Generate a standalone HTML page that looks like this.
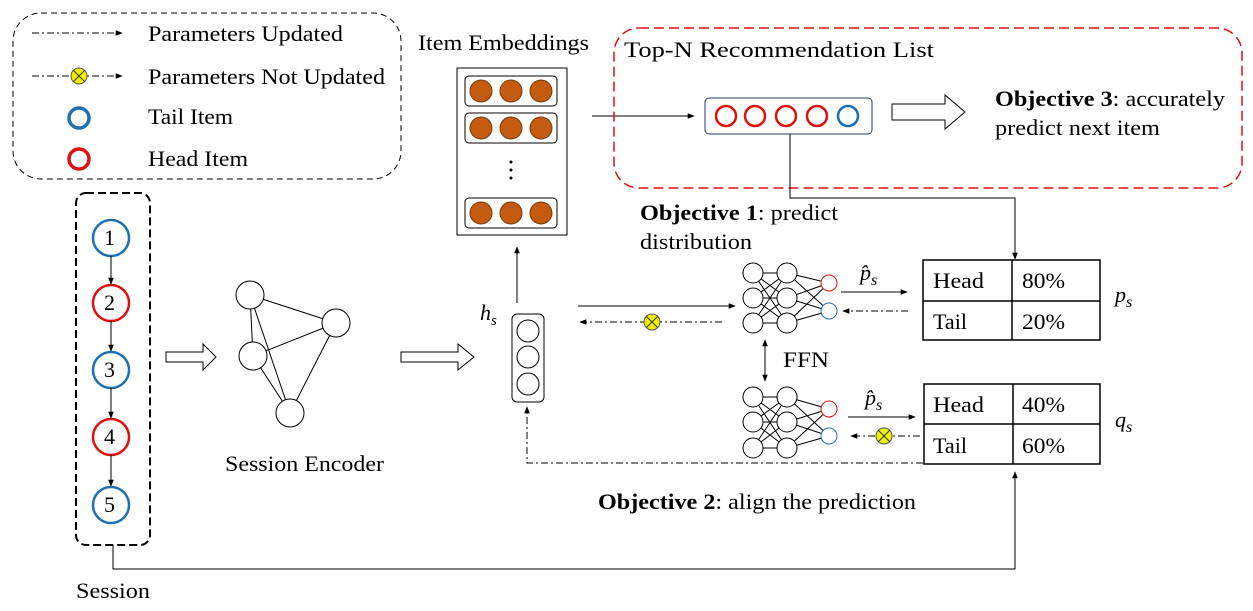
<!DOCTYPE html>
<html><head><style>
html,body{margin:0;padding:0;background:#fff;}
svg text{font-family:"Liberation Serif",serif;font-size:22px;fill:#000;}
</style></head><body>
<svg width="1253" height="606" viewBox="0 0 1253 606" xmlns="http://www.w3.org/2000/svg">
<defs>
<marker id="ah" viewBox="0 0 10 10" refX="9" refY="5" markerWidth="7" markerHeight="7" orient="auto-start-reverse"><path d="M0,1 L10,5 L0,9 z" fill="#000"/></marker>
<g id="yx"><circle r="8" fill="#f2f000" stroke="#555" stroke-width="1"/><path d="M-5.5,-5.5 L5.5,5.5 M5.5,-5.5 L-5.5,5.5" stroke="#333" stroke-width="1"/></g>
</defs>
<!-- legend -->
<rect x="13" y="13" width="388" height="166" rx="28" fill="none" stroke="#000" stroke-dasharray="6,4"/>
<line x1="32" y1="33" x2="122" y2="33" stroke="#000" stroke-dasharray="7,3,2,3" marker-end="url(#ah)"/>
<text x="148" y="41" textLength="195" lengthAdjust="spacingAndGlyphs">Parameters Updated</text>
<line x1="32" y1="76" x2="122" y2="76" stroke="#000" stroke-dasharray="7,3,2,3" marker-end="url(#ah)"/>
<use href="#yx" x="79" y="76"/>
<text x="148" y="84" textLength="237" lengthAdjust="spacingAndGlyphs">Parameters Not Updated</text>
<circle cx="79" cy="118" r="10" fill="none" stroke="#1f6fb5" stroke-width="3.5"/>
<text x="148" y="124" textLength="85" lengthAdjust="spacingAndGlyphs">Tail Item</text>
<circle cx="79" cy="159" r="10" fill="none" stroke="#e01010" stroke-width="3.5"/>
<text x="148" y="166" textLength="100" lengthAdjust="spacingAndGlyphs">Head Item</text>
<!-- session -->
<rect x="76" y="193" width="74" height="352" rx="10" fill="none" stroke="#000" stroke-width="2" stroke-dasharray="8,4"/>
<g stroke-width="2.5" fill="#fff">
<circle cx="111" cy="238" r="18" stroke="#1f6fb5"/>
<circle cx="111" cy="303" r="18" stroke="#e01010"/>
<circle cx="111" cy="370" r="18" stroke="#1f6fb5"/>
<circle cx="111" cy="437" r="18" stroke="#e01010"/>
<circle cx="111" cy="505" r="18" stroke="#1f6fb5"/>
</g>
<g stroke="#000" marker-end="url(#ah)">
<line x1="111" y1="256" x2="111" y2="284"/><line x1="111" y1="321" x2="111" y2="351"/>
<line x1="111" y1="388" x2="111" y2="418"/><line x1="111" y1="455" x2="111" y2="486"/>
</g>
<text x="104" y="245">1</text><text x="104" y="310">2</text><text x="104" y="377">3</text><text x="104" y="444">4</text><text x="104" y="512">5</text>
<text x="76" y="598" textLength="74" lengthAdjust="spacingAndGlyphs">Session</text>
<polyline points="113,545 113,569 1015,569 1015,472" fill="none" stroke="#000" marker-end="url(#ah)"/>
<!-- hollow arrows -->
<path d="M166,352 L203,352 L203,344 L216,357 L203,370 L203,362 L166,362 Z" fill="#fff" stroke="#000"/>
<path d="M401,352 L458,352 L458,344 L474,357 L458,370 L458,362 L401,362 Z" fill="#fff" stroke="#000"/>
<path d="M892,104 L945,104 L945,95 L965,112 L945,129 L945,120 L892,120 Z" fill="#fff" stroke="#000"/>
<!-- graph -->
<g stroke="#000" fill="none">
<line x1="250" y1="295" x2="336" y2="323"/><line x1="250" y1="295" x2="253" y2="356"/><line x1="250" y1="295" x2="290" y2="413"/>
<line x1="253" y1="356" x2="336" y2="323"/><line x1="253" y1="356" x2="290" y2="413"/><line x1="336" y1="323" x2="290" y2="413"/>
</g>
<g stroke="#000" fill="#fff"><circle cx="250" cy="295" r="14"/><circle cx="336" cy="323" r="14"/><circle cx="253" cy="356" r="14"/><circle cx="290" cy="413" r="14"/></g>
<text x="225" y="471" textLength="159" lengthAdjust="spacingAndGlyphs">Session Encoder</text>
<!-- hs -->
<rect x="512" y="314" width="32" height="88" rx="5" fill="#fff" stroke="#000"/>
<g stroke="#000" fill="#fff"><circle cx="528" cy="331" r="11"/><circle cx="528" cy="357" r="11"/><circle cx="528" cy="384" r="11"/></g>
<text x="480" y="320" font-style="italic">h<tspan font-size="15" dy="5">s</tspan></text>
<line x1="517" y1="303" x2="517" y2="247" stroke="#000" marker-end="url(#ah)"/>
<!-- item embeddings -->
<text x="418" y="50" textLength="171" lengthAdjust="spacingAndGlyphs">Item Embeddings</text>
<rect x="457" y="68" width="110" height="167" fill="#fff" stroke="#000"/>
<g fill="none" stroke="#000"><rect x="465" y="76" width="92" height="30" rx="4"/><rect x="465" y="113" width="92" height="30" rx="4"/><rect x="465" y="198" width="92" height="30" rx="4"/></g>
<g fill="#c55a11" stroke="#7a3a08">
<circle cx="481" cy="91" r="11"/><circle cx="511" cy="91" r="11"/><circle cx="541" cy="91" r="11"/>
<circle cx="481" cy="128" r="11"/><circle cx="511" cy="128" r="11"/><circle cx="541" cy="128" r="11"/>
<circle cx="481" cy="213" r="11"/><circle cx="511" cy="213" r="11"/><circle cx="541" cy="213" r="11"/>
</g>
<g fill="#000"><circle cx="511" cy="162" r="1.5"/><circle cx="511" cy="170" r="1.5"/><circle cx="511" cy="178" r="1.5"/></g>
<line x1="592" y1="116" x2="694" y2="116" stroke="#000" marker-end="url(#ah)"/>
<!-- top-N -->
<rect x="614" y="28" width="628" height="160" rx="25" fill="none" stroke="#e01010" stroke-width="1.5" stroke-dasharray="10,5"/>
<text x="624" y="57" textLength="310" lengthAdjust="spacingAndGlyphs">Top-N Recommendation List</text>
<rect x="705" y="98" width="167" height="36" rx="4" fill="#fff" stroke="#1f3864"/>
<g fill="none" stroke-width="2.5">
<circle cx="726" cy="116" r="10" stroke="#e01010"/><circle cx="755" cy="116" r="10" stroke="#e01010"/>
<circle cx="786" cy="116" r="10" stroke="#e01010"/><circle cx="817" cy="116" r="10" stroke="#e01010"/>
<circle cx="848" cy="116" r="10" stroke="#1f6fb5"/>
</g>
<text x="995" y="106" textLength="230" lengthAdjust="spacingAndGlyphs"><tspan font-weight="bold">Objective 3</tspan>: accurately</text>
<text x="995" y="135" textLength="165" lengthAdjust="spacingAndGlyphs">predict next item</text>
<polyline points="790,134 790,198 1015,198 1015,259" fill="none" stroke="#000" marker-end="url(#ah)"/>
<!-- objective 1 -->
<text x="640" y="220" textLength="198" lengthAdjust="spacingAndGlyphs"><tspan font-weight="bold">Objective 1</tspan>: predict</text>
<text x="640" y="249" textLength="112" lengthAdjust="spacingAndGlyphs">distribution</text>
<line x1="578" y1="306" x2="735" y2="306" stroke="#000" marker-end="url(#ah)"/>
<line x1="722" y1="322" x2="580" y2="322" stroke="#000" stroke-dasharray="7,3,2,3" marker-end="url(#ah)"/>
<use href="#yx" x="652" y="322"/>
<!-- NN -->
<g stroke="#000" stroke-width="1">
<path d="M753,273 L787,273 M753,273 L787,298 M753,273 L787,323 M753,298 L787,273 M753,298 L787,298 M753,298 L787,323 M753,323 L787,273 M753,323 L787,298 M753,323 L787,323"/>
<path d="M787,273 L829,283 M787,273 L829,311 M787,298 L829,283 M787,298 L829,311 M787,323 L829,283 M787,323 L829,311"/>
<path d="M753,397 L787,397 M753,397 L787,422 M753,397 L787,448 M753,422 L787,397 M753,422 L787,422 M753,422 L787,448 M753,448 L787,397 M753,448 L787,422 M753,448 L787,448"/>
<path d="M787,397 L829,409 M787,397 L829,436 M787,422 L829,409 M787,422 L829,436 M787,448 L829,409 M787,448 L829,436"/>
</g>
<g stroke="#000" fill="#fff">
<circle cx="753" cy="273" r="10"/><circle cx="753" cy="298" r="10"/><circle cx="753" cy="323" r="10"/>
<circle cx="787" cy="273" r="10"/><circle cx="787" cy="298" r="10"/><circle cx="787" cy="323" r="10"/>
<circle cx="753" cy="397" r="10"/><circle cx="753" cy="422" r="10"/><circle cx="753" cy="448" r="10"/>
<circle cx="787" cy="397" r="10"/><circle cx="787" cy="422" r="10"/><circle cx="787" cy="448" r="10"/>
</g>
<g fill="#fff">
<circle cx="829" cy="283" r="8" stroke="#e01010"/><circle cx="829" cy="311" r="8" stroke="#1f6fb5"/>
<circle cx="829" cy="409" r="8" stroke="#e01010"/><circle cx="829" cy="436" r="8" stroke="#1f6fb5"/>
</g>
<line x1="765" y1="340" x2="765" y2="381" stroke="#000" marker-start="url(#ah)" marker-end="url(#ah)"/>
<text x="783" y="367" textLength="46" lengthAdjust="spacingAndGlyphs">FFN</text>
<text x="860" y="280" font-style="italic" font-size="24">p̂<tspan font-size="16" dy="5">s</tspan></text>
<line x1="841" y1="292" x2="907" y2="292" stroke="#000" marker-end="url(#ah)"/>
<line x1="908" y1="311" x2="843" y2="311" stroke="#000" stroke-dasharray="7,3,2,3" marker-end="url(#ah)"/>
<text x="865" y="405" font-style="italic" font-size="24">p̂<tspan font-size="16" dy="5">s</tspan></text>
<line x1="848" y1="417" x2="915" y2="417" stroke="#000" marker-end="url(#ah)"/>
<line x1="920" y1="436" x2="851" y2="436" stroke="#000" stroke-dasharray="7,3,2,3" marker-end="url(#ah)"/>
<use href="#yx" x="884" y="436"/>
<!-- tables -->
<g fill="none" stroke="#000" stroke-width="1.5">
<rect x="923" y="260" width="177" height="80"/><line x1="923" y1="301" x2="1100" y2="301"/><line x1="1012" y1="260" x2="1012" y2="340"/>
<rect x="924" y="384" width="176" height="80"/><line x1="924" y1="424" x2="1100" y2="424"/><line x1="1013" y1="384" x2="1013" y2="464"/>
</g>
<g font-size="23">
<text x="933" y="288" textLength="51" lengthAdjust="spacingAndGlyphs">Head</text><text x="1022" y="288" textLength="43" lengthAdjust="spacingAndGlyphs">80%</text>
<text x="933" y="329" textLength="34" lengthAdjust="spacingAndGlyphs">Tail</text><text x="1022" y="329" textLength="43" lengthAdjust="spacingAndGlyphs">20%</text>
<text x="933" y="412" textLength="51" lengthAdjust="spacingAndGlyphs">Head</text><text x="1022" y="412" textLength="43" lengthAdjust="spacingAndGlyphs">40%</text>
<text x="933" y="453" textLength="34" lengthAdjust="spacingAndGlyphs">Tail</text><text x="1022" y="453" textLength="43" lengthAdjust="spacingAndGlyphs">60%</text>
</g>
<text x="1115" y="302" font-style="italic" font-size="24">p<tspan font-size="16" dy="5">s</tspan></text>
<text x="1115" y="427" font-style="italic" font-size="24">q<tspan font-size="16" dy="5">s</tspan></text>
<polyline points="923,463 527,463 527,407" fill="none" stroke="#000" stroke-dasharray="7,3,2,3" marker-end="url(#ah)"/>
<text x="598" y="509" textLength="318" lengthAdjust="spacingAndGlyphs"><tspan font-weight="bold">Objective 2</tspan>: align the prediction</text>
</svg>
</body></html>
